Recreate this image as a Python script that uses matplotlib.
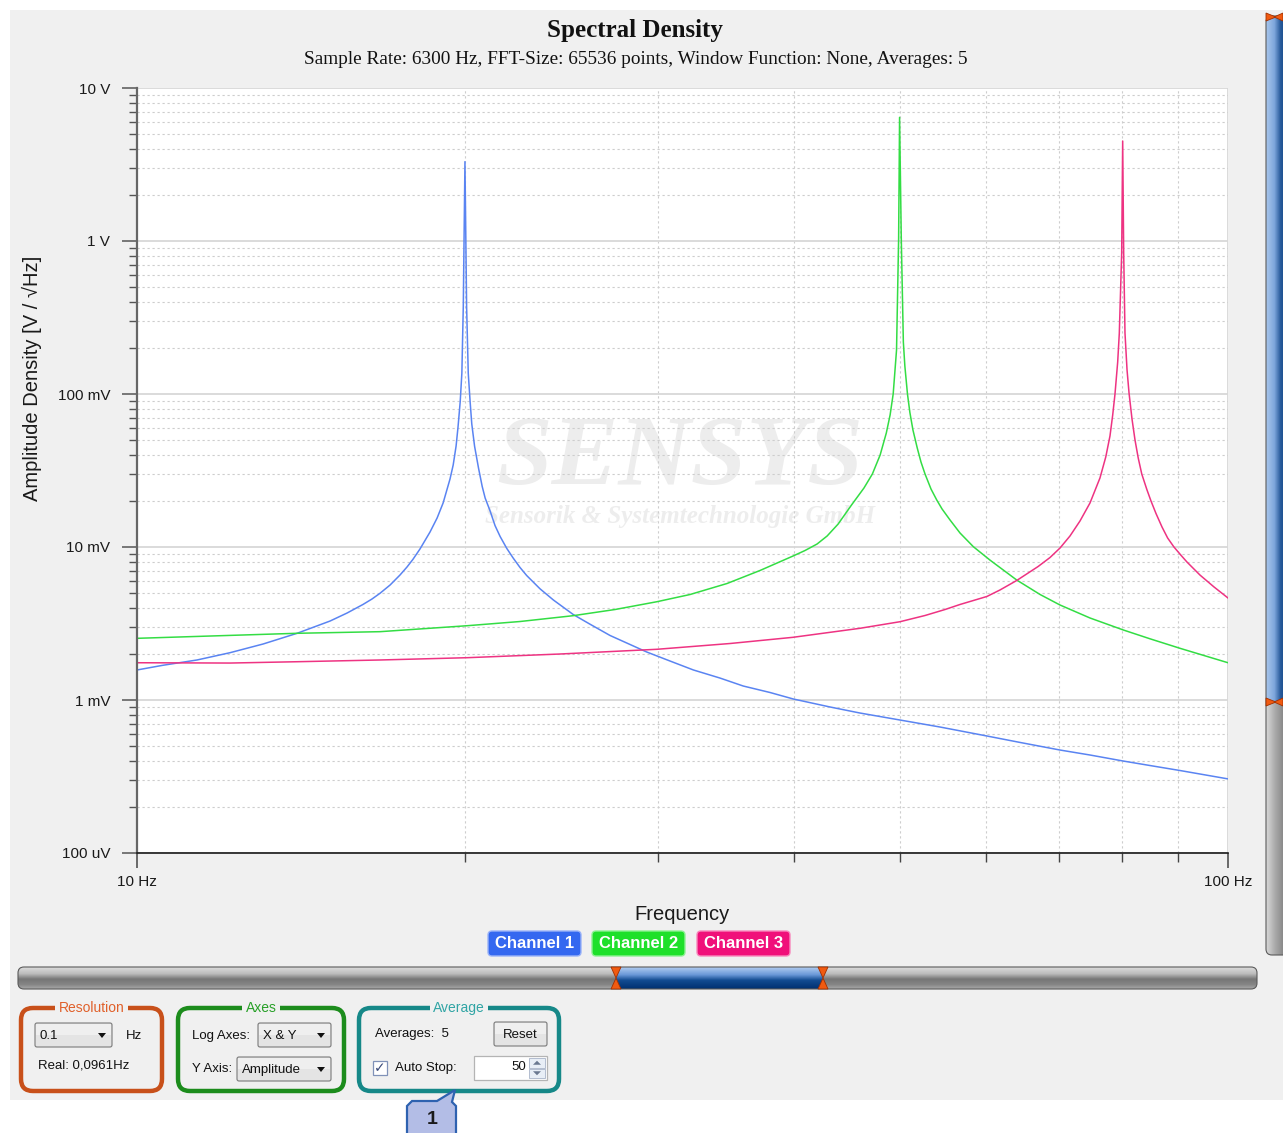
import numpy as np
import matplotlib
matplotlib.use("Agg")
import matplotlib.pyplot as plt
import matplotlib.colors as mcolors
from matplotlib.patches import FancyBboxPatch, Rectangle, Polygon
from matplotlib.ticker import NullFormatter

W, H = 1283, 1133

# values (Hz, V/sqrt(Hz))
ch1_freq = [10.0, 10.56, 11.35, 12.17, 13.05, 14.02, 15.03, 15.58, 16.11, 16.42, 16.70,
            17.06, 17.42, 17.68, 17.90, 18.17, 18.56, 18.84, 19.08, 19.36, 19.49, 19.61,
            19.69, 19.78, 19.85, 19.91, 19.98, 20.05, 20.12, 20.20, 20.27, 20.39, 20.56,
            20.72, 20.85, 21.07, 21.29, 21.52, 21.82, 22.12, 22.44, 22.76, 23.41, 24.08,
            25.11, 26.02, 27.14, 29.32, 30.80, 32.36, 34.22, 35.95, 38.03, 39.96, 43.18,
            45.99, 50.04, 54.45, 60.1, 64.47, 70.15, 74.73, 80.18, 84.82, 90.37, 100.0]
ch1_amp = [1.571e-3, 1.686e-3, 1.826e-3, 2.038e-3, 2.323e-3, 2.729e-3, 3.282e-3, 3.703e-3,
           4.21e-3, 4.571e-3, 4.982e-3, 5.644e-3, 6.56e-3, 7.40e-3, 8.29e-3, 9.70e-3,
           1.253e-2, 1.547e-2, 1.939e-2, 2.782e-2, 3.435e-2, 4.571e-2, 6.085e-2, 8.87e-2,
           0.1366, 0.372, 3.30,
           0.372, 0.1366, 8.87e-2, 6.37e-2, 4.557e-2, 3.282e-2, 2.49e-2, 2.09e-2, 1.719e-2,
           1.38e-2, 1.171e-2, 9.81e-3, 8.47e-3, 7.355e-3, 6.51e-3, 5.33e-3, 4.504e-3,
           3.62e-3, 3.127e-3, 2.64e-3, 2.06e-3, 1.798e-3, 1.571e-3, 1.392e-3, 1.234e-3,
           1.12e-3, 1.015e-3, 9.0e-4, 8.22e-4, 7.40e-4, 6.66e-4, 5.82e-4, 5.28e-4, 4.71e-4,
           4.37e-4, 3.99e-4, 3.73e-4, 3.46e-4, 3.05e-4]

ch2_freq = [10.0, 14.02, 16.70, 20.07, 22.44, 25.10, 27.43, 29.96, 32.13, 34.74, 37.24,
            39.93, 40.96, 42.01, 42.91, 43.92, 45.19, 46.38, 47.21, 47.99, 48.62, 49.01,
            49.33, 49.68, 49.90, 50.0, 50.18, 50.40, 50.56, 50.84, 51.10, 51.43, 51.90,
            52.31, 52.76, 53.43, 54.08, 54.69, 55.62, 56.80, 58.42, 60.50, 64.02, 67.26,
            70.15, 74.73, 80.18, 84.82, 90.37, 100.0]
ch2_amp = [2.530e-3, 2.729e-3, 2.796e-3, 3.058e-3, 3.258e-3, 3.556e-3, 3.904e-3, 4.389e-3,
           4.892e-3, 5.773e-3, 7.02e-3, 8.73e-3, 9.49e-3, 1.046e-2, 1.18e-2, 1.413e-2,
           1.887e-2, 2.43e-2, 3.0e-2, 3.993e-2, 5.563e-2, 7.29e-2, 0.1, 0.1939, 1.04, 6.43,
           1.04, 0.2187, 0.1524, 0.1, 7.57e-2, 5.82e-2, 4.437e-2, 3.594e-2, 3.0e-2,
           2.393e-2, 2.029e-2, 1.772e-2, 1.501e-2, 1.235e-2, 1.005e-2, 8.22e-3, 6.085e-3,
           4.892e-3, 4.177e-3, 3.436e-3, 2.868e-3, 2.512e-3, 2.177e-3, 1.752e-3]

ch3_freq = [10.0, 12.17, 14.02, 16.70, 20.07, 24.42, 29.96, 34.96, 39.93, 45.99, 50.04,
            52.76, 55.04, 56.80, 60.12, 61.81, 64.02, 66.98, 68.69, 70.15, 71.64, 73.17,
            74.73, 76.32, 77.26, 77.95, 78.40, 78.78, 79.23, 79.50, 79.90, 80.07, 80.24,
            80.46, 80.81, 81.15, 81.66, 82.18, 82.74, 83.36, 84.26, 85.00, 85.90, 87.00,
            88.04, 89.22, 90.51, 91.70, 94.25, 97.09, 100.0]
ch3_amp = [1.752e-3, 1.744e-3, 1.779e-3, 1.826e-3, 1.890e-3, 1.998e-3, 2.145e-3, 2.34e-3,
           2.569e-3, 2.942e-3, 3.248e-3, 3.567e-3, 3.904e-3, 4.21e-3, 4.75e-3, 5.24e-3,
           6.04e-3, 7.455e-3, 8.54e-3, 9.85e-3, 1.18e-2, 1.479e-2, 1.939e-2, 2.825e-2,
           3.874e-2, 5.314e-2, 7.29e-2, 0.1, 0.1619, 0.2493, 0.8308, 4.504, 0.831, 0.2504,
           0.1435, 0.1015, 6.865e-2, 5.003e-2, 3.816e-2, 3.0e-2, 2.375e-2, 1.998e-2,
           1.656e-2, 1.351e-2, 1.145e-2, 1.0e-2, 8.866e-3, 7.98e-3, 6.56e-3, 5.48e-3,
           4.642e-3]

channels = ["Channel 1", "Channel 2", "Channel 3"]
line_colors = ["#5a84f2", "#33dd44", "#ee3382"]
box_colors = ["#3468f0", "#1ee02a", "#f0107a"]

y_major = [1e-4, 1e-3, 1e-2, 1e-1, 1, 10]
y_labels = ["100 uV", "1 mV", "10 mV", "100 mV", "1 V", "10 V"]
y_minor = [k * 10.0 ** e for e in range(-4, 1) for k in range(2, 10)]
x_major = [10, 100]
x_labels = ["10 Hz", "100 Hz"]
x_minor = [20, 30, 40, 50, 60, 70, 80, 90]

plt.rcParams["font.family"] = ["Liberation Sans", "DejaVu Sans"]
SERIF = ["Liberation Serif", "DejaVu Serif"]
PANEL = "#f0f0f0"


def fx(x):
    return x / W


def fy(y):
    return 1 - y / H


def gradient(ax, x0, y0, x1, y1, stops, colors, horizontal=False, clip=None, z=1):
    t = np.linspace(0, 1, 64)
    rgb = np.array([mcolors.to_rgb(c) for c in colors])
    arr = np.stack([np.interp(t, stops, rgb[:, i]) for i in range(3)], axis=-1)
    arr = arr[None, :, :] if horizontal else arr[:, None, :]
    im = ax.imshow(arr, extent=(x0, x1, y1, y0), aspect="auto",
                   interpolation="bilinear", zorder=z)
    if clip is not None:
        im.set_clip_path(clip)
    return im


def combo(ax, x, y, w, h, text, arrow=True, center=False):
    ax.add_patch(FancyBboxPatch((x, y), w, h, boxstyle="round,pad=0,rounding_size=2",
                                fc="#e4e4e4", ec="#7a7a7a", lw=0.8, zorder=3))
    ax.add_patch(Rectangle((x + 1, y + 1), w - 2, h / 2 - 1, fc="#efefef", ec="none", zorder=3))
    if center:
        ax.text(x + w / 2, y + h / 2 + 1, text, ha="center", va="center", fontsize=9.5,
                color="#111", zorder=4)
    else:
        ax.text(x + 5, y + h / 2 + 1, text, ha="left", va="center", fontsize=9.5,
                color="#111", zorder=4)
    if arrow:
        cx, cy = x + w - 10, y + h / 2
        ax.add_patch(Polygon([(cx - 4, cy - 2), (cx + 4, cy - 2), (cx, cy + 3)],
                             fc="#111", ec="none", zorder=4))


def group(ax, x, y, w, h, title, ec, tc):
    ax.add_patch(FancyBboxPatch((x, y), w, h, boxstyle="round,pad=0,rounding_size=12",
                                fc="none", ec=ec, lw=3.2, zorder=2))
    ax.text(x + w / 2, y, title, ha="center", va="center", fontsize=10, color=tc, zorder=3,
            bbox=dict(fc=PANEL, ec="none", pad=2.5))


fig = plt.figure(figsize=(W / 100, H / 100), dpi=100)
fig.patch.set_facecolor("white")

# background / UI layer in pixel coordinates
bg = fig.add_axes([0, 0, 1, 1], zorder=0)
bg.set_axis_off()
bg.add_patch(Rectangle((10, 10), W - 10, 1090, fc=PANEL, ec="none", zorder=0))

# legend boxes
lx = [488, 592, 697]
for name, c, x in zip(channels, box_colors, lx):
    bg.add_patch(FancyBboxPatch((x, 931), 93, 25, boxstyle="round,pad=0,rounding_size=4",
                                fc=c, ec=mcolors.to_hex(np.array(mcolors.to_rgb(c)) * 0.5 + 0.5),
                                lw=1, zorder=2))
    bg.text(x + 46.5, 943.5, name, ha="center", va="center", fontsize=12,
            fontweight="bold", color="white", zorder=3)

# horizontal range bar
track = FancyBboxPatch((18, 967), 1239, 22, boxstyle="round,pad=0,rounding_size=6",
                       fc="none", ec="#5a5a5a", lw=0.8, zorder=3)
bg.add_patch(track)
gradient(bg, 18, 967, 1257, 989, [0, 0.3, 0.55, 0.8, 1],
         ["#dcdcdc", "#bcbcbc", "#767676", "#858585", "#a8a8a8"], clip=track, z=2)
gradient(bg, 616, 967, 823, 989, [0, 0.35, 0.6, 1],
         ["#b0ccf0", "#6a98d8", "#134c92", "#003070"], z=2.5)
for mx in [616, 823]:
    bg.add_patch(Polygon([(mx - 5, 967), (mx + 5, 967), (mx, 978)], fc="#f05a10",
                         ec="#a03000", lw=0.6, zorder=4))
    bg.add_patch(Polygon([(mx - 5, 989), (mx + 5, 989), (mx, 978)], fc="#f05a10",
                         ec="#a03000", lw=0.6, zorder=4))

# vertical range bar on the right
vtrack = FancyBboxPatch((1266, 16), 24, 939, boxstyle="round,pad=0,rounding_size=6",
                        fc="none", ec="#5a5a5a", lw=0.8, zorder=3)
bg.add_patch(vtrack)
gradient(bg, 1266, 16, 1290, 702, [0, 0.35, 0.6, 1],
         ["#a8c6ec", "#7ea6dc", "#2a5c9c", "#003878"], horizontal=True, clip=vtrack, z=2)
gradient(bg, 1266, 702, 1290, 955, [0, 0.4, 1],
         ["#d8d8d8", "#a8a8a8", "#6e6e6e"], horizontal=True, clip=vtrack, z=2)
for my in [17, 702]:
    bg.add_patch(Polygon([(1266, my - 4), (1266, my + 4), (1276, my)], fc="#f05a10",
                         ec="#a03000", lw=0.6, zorder=4))
    bg.add_patch(Polygon([(1283, my - 4), (1283, my + 4), (1274, my)], fc="#f05a10",
                         ec="#a03000", lw=0.6, zorder=4))

# control group boxes
group(bg, 21, 1008, 141, 83, "Resolution", "#c8501a", "#e0602a")
combo(bg, 35, 1023, 77, 24, "0.1")
bg.text(126, 1036, "Hz", ha="left", va="center", fontsize=9.5, color="#111")
bg.text(38, 1066, "Real: 0,0961Hz", ha="left", va="center", fontsize=9.5, color="#111")

group(bg, 178, 1008, 166, 83, "Axes", "#1c8c1c", "#28a028")
bg.text(192, 1036, "Log Axes:", ha="left", va="center", fontsize=9.5, color="#111")
combo(bg, 258, 1023, 73, 24, "X & Y")
bg.text(192, 1069, "Y Axis:", ha="left", va="center", fontsize=9.5, color="#111")
combo(bg, 237, 1057, 94, 24, "Amplitude")

group(bg, 359, 1008, 200, 83, "Average", "#168888", "#30a4a4")
bg.text(375, 1034, "Averages:  5", ha="left", va="center", fontsize=9.5, color="#111")
combo(bg, 494, 1022, 53, 24, "Reset", arrow=False, center=True)
bg.add_patch(Rectangle((373, 1061), 14, 14, fc="white", ec="#8092b8", lw=0.9, zorder=3))
bg.text(380, 1068.5, "\u2713", ha="center", va="center", fontsize=10, color="#3a4a78",
        family=["DejaVu Sans"], zorder=4)
bg.text(395, 1068, "Auto Stop:", ha="left", va="center", fontsize=9.5, color="#111")
bg.add_patch(Rectangle((474, 1056), 73, 24, fc="white", ec="#b4b4b4", lw=0.9, zorder=3))
bg.text(526, 1067, "50", ha="right", va="center", fontsize=9.5, color="#111", zorder=4)
for sy, up in [(1058, True), (1068.5, False)]:
    bg.add_patch(Rectangle((529, sy), 16, 9.5, fc="#e8eef6", ec="#a8b4c8", lw=0.6, zorder=4))
    cy = sy + 4.75
    tri = [(533, cy + 2), (541, cy + 2), (537, cy - 2)] if up else \
          [(533, cy - 2), (541, cy - 2), (537, cy + 2)]
    bg.add_patch(Polygon(tri, fc="#6a7890", ec="none", zorder=5))

# callout bubble
bubble = [(407, 1140), (407, 1106), (412, 1101), (437, 1101), (455, 1090),
          (452, 1102), (456, 1106), (456, 1140)]
bg.add_patch(Polygon(bubble, closed=True, fc="#b3bde6", ec="#2e62b0", lw=1.6, zorder=3))
bg.text(432, 1119, "1", ha="center", va="center", fontsize=14, fontweight="bold",
        color="#1a1a1a", zorder=4)

bg.set_xlim(0, W)
bg.set_ylim(H, 0)

# spectrum plot
ax = fig.add_axes([fx(137), fy(853), 1091 / W, 765 / H], zorder=1)
ax.set_facecolor("white")
ax.set_xscale("log")
ax.set_yscale("log")

for f, a, c in zip([ch1_freq, ch2_freq, ch3_freq], [ch1_amp, ch2_amp, ch3_amp], line_colors):
    ax.plot(f, a, color=c, lw=1.1, zorder=2)

ax.set_xlim(10, 100)
ax.set_ylim(1e-4, 10)
ax.set_xticks(x_major, x_labels)
ax.set_xticks(x_minor, minor=True)
ax.set_yticks(y_major, y_labels)
ax.set_yticks(y_minor, minor=True)
ax.xaxis.set_minor_formatter(NullFormatter())
ax.yaxis.set_minor_formatter(NullFormatter())

ax.grid(which="major", axis="both", color="#d8d8d8", lw=1.3, ls="-")
ax.grid(which="minor", axis="both", color="#cdcdcd", lw=0.8, ls=(0, (2, 2.5)))

for s in ["top", "right"]:
    ax.spines[s].set_visible(False)
ax.spines["left"].set_color("#666666")
ax.spines["left"].set_linewidth(1.6)
ax.spines["bottom"].set_color("#1a1a1a")
ax.spines["bottom"].set_linewidth(1.2)

ax.tick_params(axis="y", which="major", direction="out", length=10.8, width=1.1,
               color="#555555", pad=8.5, labelsize=11, labelcolor="#1a1a1a")
ax.tick_params(axis="y", which="minor", direction="out", length=6, width=1.0, color="#555555")
ax.tick_params(axis="x", which="major", direction="out", length=10.8, width=1.1,
               color="#444444", pad=5, labelsize=11, labelcolor="#1a1a1a")
ax.tick_params(axis="x", which="minor", direction="out", length=6.5, width=1.0, color="#444444")

# watermark
ax.text((680 - 137) / 1091, (853 - 460) / 765, "SENSYS", transform=ax.transAxes,
        ha="center", va="center", fontsize=72, fontweight="bold", fontstyle="italic",
        family=SERIF, color="#ededed", zorder=1)
ax.text((680 - 137) / 1091, (853 - 516) / 765, "Sensorik & Systemtechnologie GmbH",
        transform=ax.transAxes, ha="center", va="center", fontsize=18, fontweight="bold",
        fontstyle="italic", family=SERIF, color="#ededed", zorder=1)

# titles and axis labels
fig.text(fx(635), fy(31), "Spectral Density", ha="center", va="center", fontsize=18,
         fontweight="bold", family=SERIF, color="#111111")
fig.text(fx(636), fy(60), "Sample Rate: 6300 Hz, FFT-Size: 65536 points, Window Function: "
         "None, Averages: 5", ha="center", va="center", fontsize=13.9, family=SERIF,
         color="#111111")
fig.text(fx(32), fy(378), "Amplitude Density [V / \u221aHz]", rotation=90, ha="center",
         va="center", fontsize=14.5, color="#1a1a1a")
fig.text(fx(682), fy(915), "Frequency", ha="center", va="center", fontsize=14.5,
         color="#1a1a1a")

fig.savefig("out.png", dpi=100, facecolor=fig.get_facecolor())
